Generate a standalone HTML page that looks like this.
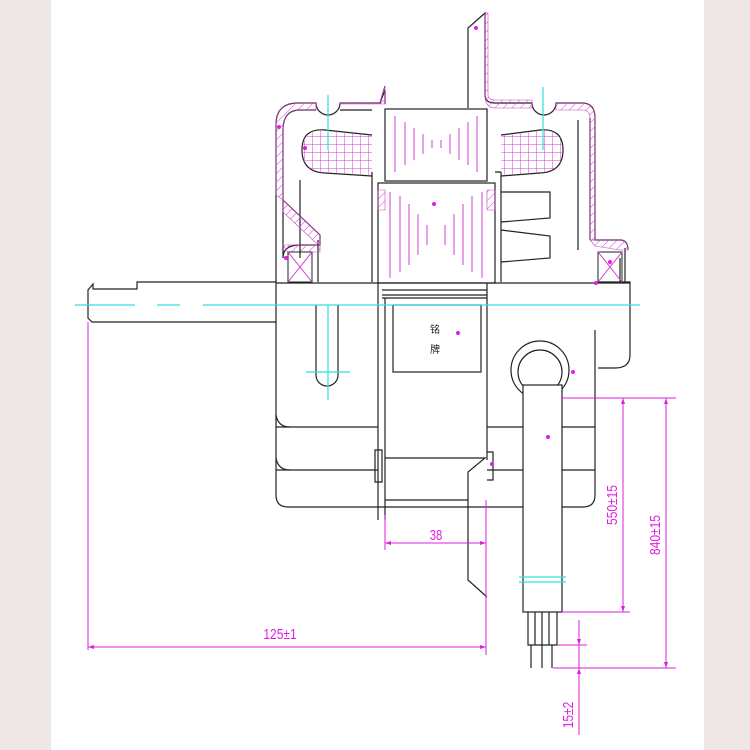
<!DOCTYPE html>
<html><head><meta charset="utf-8"><style>
html,body{margin:0;padding:0;background:#efe6e6;}
svg{display:block}
text{font-family:"Liberation Sans","Noto Sans CJK SC",sans-serif;fill:#e01ee0}
</style></head><body>
<svg width="750" height="750" viewBox="0 0 750 750" xmlns="http://www.w3.org/2000/svg">
<defs>
<pattern id="h" width="6" height="6" patternUnits="userSpaceOnUse" patternTransform="rotate(45)">
<line x1="0" y1="0" x2="0" y2="6" stroke="#d040d0" stroke-width="1"/></pattern>
<pattern id="g" width="8" height="8" patternUnits="userSpaceOnUse">
<path d="M0 0H8M0 0V8" stroke="#d040d0" stroke-width="1" fill="none"/></pattern>
</defs>
<rect x="51" y="0" width="653" height="750" fill="#fff"/>
<g fill="none" stroke="#222" stroke-width="1.2">
<path d="M88 300 L88 290 L93 284 L93 289 L137 289 L137 282 L276 282 M88 300 L88 318 L92 322 L276 322"/>
<path d="M276 258 V495 Q276 507 288 507 H583 Q595 507 595 495 V330"/>
<path d="M276 427 H378 M276 470 H378 M487 427 H523 M562 427 H595 M487 470 H523 M562 470 H595"/>
<path d="M276 415 Q278 427 290 427 M276 458 Q278 470 290 470"/>
<path d="M595 282 H630 V355 Q630 368 615 368 H598"/>
<path d="M625 248 V282 M620 258 V282"/>
<path d="M276 258 V125 Q276 103 298 103 H316 A12 12 0 0 0 340 103 H380 L385 90 V104 M380 103 L385 86"/>
<path d="M283 258 V130 Q283 110 300 110 H316 M340 110 H372"/>
<path d="M283 200 L320 235 V245 L300 245 Q283 245 283 258"/>
<path d="M468 108 V28 L485 13 V95 Q485 103 495 103 H532 A12 12 0 0 0 556 103 H582 Q595 103 595 118 V240 H620 Q628 240 628 250"/>
<path d="M300 180 V258 M318 240 V282 M578 120 V250 M590 118 V240"/>
<rect x="385" y="109" width="102" height="72"/>
<rect x="378" y="183" width="117" height="100"/>
<path d="M372 172 V282 M501 172 V282 M495 172 H501"/>
<path d="M276 283 H630 M382 290 H487 M382 295 H487 M382 298 H487 M378 283 V520 M385 298 V520 M487 283 V460"/>
<rect x="393" y="305" width="88" height="67"/>
<path d="M316 305 V375 A11 11 0 0 0 338 375 V305"/>
<path d="M501 192 H550 V218 L501 222 M501 230 L550 236 V258 L501 262"/>
<path d="M372 135 L325 130 Q302 128 302 150 Q302 172 325 173 L372 176"/>
<path d="M501 135 L540 130 Q563 128 563 150 Q563 172 540 173 L501 176"/>
<circle cx="540" cy="370" r="29"/>
<circle cx="540" cy="372" r="22"/>
<rect x="523" y="385" width="39" height="227" fill="#fff"/>
<path d="M528 612 V645 H557 V612 M535 612 V645 M542 612 V645 M549 612 V645 M531 645 V668 M542 645 V668 M552 645 V668"/>
<path d="M385 458 H485 L468 472 V580 L487 597 M385 500 H468 M375 450 H382 V482 H375 Z M487 452 H493 V480 H487"/>
</g>
<g fill="url(#h)" stroke="#d040d0" stroke-width="0.6">
<path d="M276 125 Q276 103 298 103 H316 L316 110 H300 Q283 110 283 130 V200 L276 195 Z"/>
<path d="M340 103 H380 L385 86 V104 H340 Z" />
<path d="M485 13 L488 13 V95 Q488 100 495 100 H532 V108 H495 Q485 108 485 95 Z"/>
<path d="M556 103 H582 Q595 103 595 118 V240 H590 V118 Q590 110 582 110 H556 Z"/>
<path d="M590 240 H620 Q628 240 628 250 H620 L595 246 Z"/>
<path d="M283 200 L320 235 V245 L315 242 L283 212 Z"/>
<path d="M283 245 H320 V252 H288 Z"/>
<path d="M378 190 H385 V210 H378 Z M487 190 H495 V210 H487 Z"/>
</g>
<path d="M372 135 L325 130 Q302 128 302 150 Q302 172 325 173 L372 176 Z" fill="url(#g)"/>
<path d="M501 135 L540 130 Q563 128 563 150 Q563 172 540 173 L501 176 Z" fill="url(#g)"/>
<g stroke="#d040d0" stroke-width="1" fill="none">
<rect x="288" y="252" width="24" height="30" stroke="#222"/>
<path d="M288 252 L312 282 M312 252 L288 282"/>
<rect x="598" y="252" width="24" height="30" stroke="#222"/>
<path d="M598 252 L622 282 M622 252 L598 282"/>
<path d="M395 116 V172 M405 122 V165 M414 128 V160 M423 134 V154 M432 140 V148 M441 140 V148 M450 134 V154 M459 128 V160 M468 122 V165 M477 116 V172"/>
<path d="M390 192 V278 M400 196 V272 M409 204 V265 M418 214 V255 M427 225 V245 M445 225 V245 M454 214 V255 M463 204 V265 M472 196 V272 M482 192 V278"/>
</g>
<g stroke="#30e0e0" stroke-width="1.2" fill="none">
<path d="M75 305 H135 M157 305 H180 M203 305 H640" />
<path d="M328 95 V150 M328 305 V400 M306 372 H350 M543 87 V150 M519 577 H566 M519 582 H566"/>
</g>
<g fill="#e01ee0">
<circle cx="279" cy="127" r="2"/><circle cx="305" cy="148" r="2"/><circle cx="434" cy="204" r="2"/>
<circle cx="458" cy="333" r="2"/><circle cx="573" cy="372" r="2"/><circle cx="548" cy="437" r="2"/>
<circle cx="476" cy="28" r="2"/><circle cx="286" cy="258" r="2"/><circle cx="610" cy="262" r="2"/>
<circle cx="596" cy="283" r="2"/><circle cx="492" cy="464" r="2"/>
</g>
<g stroke="#e01ee0" stroke-width="1" fill="none">
<path d="M385 515 V550 M486 500 V655 M385 543 H486 M88 322 V650 M88 647 H486"/>
<path d="M562 398 H676 M562 612 H630 M623 398 V612 M666 398 V668 M553 668 H676 M557 645 H587 M579 620 V735"/>
</g>
<g fill="#e01ee0">
<path d="M385 543 l6 -2 v4z M486 543 l-6 -2 v4z M88 647 l6 -2 v4z M486 647 l-6 -2 v4z"/>
<path d="M623 398 l-2 6 h4z M623 612 l-2 -6 h4z M666 398 l-2 6 h4z M666 668 l-2 -6 h4z M579 645 l-2 -6 h4z M579 668 l-2 6 h4z"/>
</g>
<text font-size="15" text-anchor="middle" transform="translate(436 540) scale(0.75 1)">38</text>
<text font-size="15" text-anchor="middle" transform="translate(280 639) scale(0.8 1)">125±1</text>
<text font-size="15" text-anchor="middle" transform="translate(617 505) rotate(-90) scale(0.8 1)">550±15</text>
<text font-size="15" text-anchor="middle" transform="translate(660 535) rotate(-90) scale(0.8 1)">840±15</text>
<text font-size="15" text-anchor="middle" transform="translate(573 715) rotate(-90) scale(0.8 1)">15±2</text>
<text x="430" y="333" font-size="10" style="fill:#222">铭</text>
<text x="430" y="353" font-size="10" style="fill:#222">牌</text>
</svg>
</body></html>
